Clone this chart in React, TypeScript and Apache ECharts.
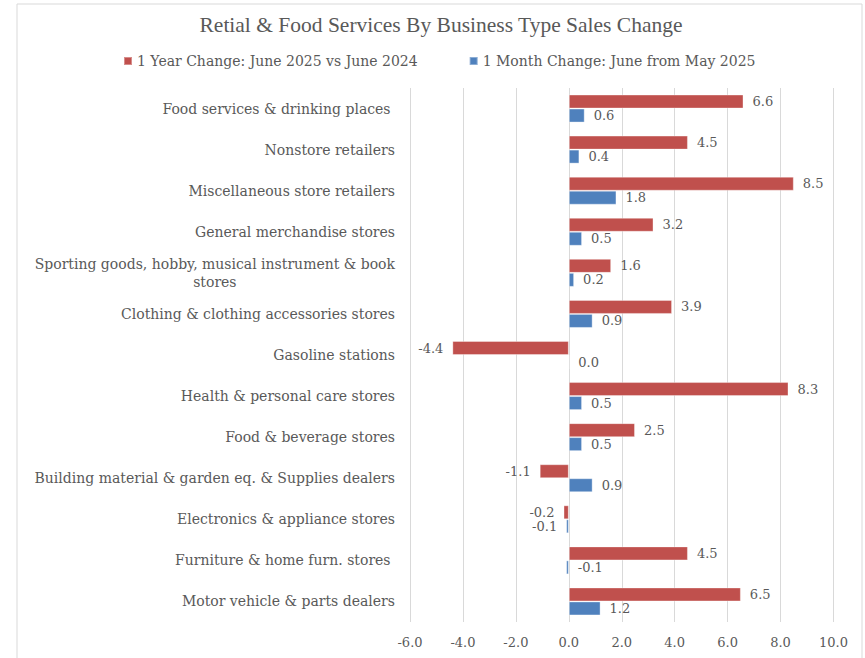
import React, { useEffect, useRef } from "react";
import * as echarts from "echarts";

const categories = [
  "Food services & drinking places ",
  "Nonstore retailers",
  "Miscellaneous store retailers",
  "General merchandise stores",
  "Sporting goods, hobby, musical instrument & book stores",
  "Clothing & clothing accessories stores",
  "Gasoline stations",
  "Health & personal care stores",
  "Food & beverage stores",
  "Building material & garden eq. & Supplies dealers",
  "Electronics & appliance stores",
  "Furniture & home furn. stores ",
  "Motor vehicle & parts dealers",
];
const yearChange = [6.6, 4.5, 8.5, 3.2, 1.6, 3.9, -4.4, 8.3, 2.5, -1.1, -0.2, 4.5, 6.5];
const monthChange = [0.6, 0.4, 1.8, 0.5, 0.2, 0.9, 0.0, 0.5, 0.5, 0.9, -0.1, -0.1, 1.2];
const monthLabelRight = [true, true, true, true, true, true, true, true, true, true, false, true, true];
const xTicks = { min: -6, max: 10, interval: 2 };

const TFONT = "'Liberation Serif', serif";
const FONT = "'DejaVu Serif', 'Liberation Serif', serif";
const GREY = "#595959";

export default function App() {
  const ref = useRef<HTMLDivElement>(null);
  useEffect(() => {
    if (!ref.current) return;
    const chart = echarts.init(ref.current, undefined, { renderer: "svg" });
    const labelFmt = (p: any) => Number(p.value).toFixed(1);
    chart.setOption({
      animation: false,
      backgroundColor: "#ffffff",
      textStyle: { fontFamily: FONT },
      graphic: [
        {
          type: "rect",
          shape: { x: 17, y: 4, width: 845, height: 700 },
          style: { fill: "none", stroke: "#d9d9d9", lineWidth: 1 },
          silent: true,
        },
      ],
      title: {
        text: "Retial & Food Services By Business Type Sales Change",
        left: 436,
        textAlign: "center",
        top: 9,
        textStyle: { fontFamily: TFONT, fontSize: 21.5, fontWeight: "normal", color: GREY },
      },
      legend: {
        top: 49,
        left: 118,
        itemWidth: 8,
        itemHeight: 8,
        itemGap: 51,
        icon: "rect",
        textStyle: { fontFamily: FONT, fontSize: 14, color: GREY },
        data: ["1 Year Change: June 2025 vs June 2024", "1 Month Change: June from May 2025"],
      },
      grid: { left: 410, right: 31.5, top: 88, bottom: 36, containLabel: false },
      xAxis: {
        type: "value",
        min: xTicks.min,
        max: xTicks.max,
        interval: xTicks.interval,
        axisLine: { show: false },
        axisTick: { show: false },
        splitLine: { show: true, lineStyle: { color: "#d9d9d9", width: 1 } },
        axisLabel: {
          margin: 14,
          fontFamily: FONT,
          fontSize: 13,
          color: GREY,
          formatter: (v: number) => v.toFixed(1),
        },
      },
      yAxis: {
        type: "category",
        inverse: true,
        data: categories,
        axisLine: { show: false },
        axisTick: { show: false },
        axisLabel: {
          margin: 15,
          fontFamily: FONT,
          fontSize: 14,
          color: GREY,
          formatter: (v: string) => {
            if (v.startsWith("Sporting")) {
              return "{a|Sporting goods, hobby, musical instrument & book}\n{b|stores}";
            }
            return v;
          },
          rich: {
            a: { fontFamily: FONT, fontSize: 14, color: GREY, lineHeight: 18 },
            b: { fontFamily: FONT, fontSize: 14, color: GREY, lineHeight: 18, align: "center" },
          },
        },
      },
      series: [
        {
          name: "1 Year Change: June 2025 vs June 2024",
          type: "bar",
          barWidth: 14,
          barGap: "0%",
          itemStyle: { color: "#C0504D", borderColor: "rgba(255,255,255,0.35)", borderWidth: 1 },
          data: yearChange.map((v) => ({
            value: v,
            label: { position: v < 0 ? "left" : "right" },
          })),
          label: {
            show: true,
            distance: 9,
            fontFamily: FONT,
            fontSize: 13,
            color: GREY,
            formatter: labelFmt,
          },
        },
        {
          name: "1 Month Change: June from May 2025",
          type: "bar",
          barWidth: 14,
          barGap: "0%",
          itemStyle: { color: "#4F81BD", borderColor: "rgba(255,255,255,0.35)", borderWidth: 1 },
          data: monthChange.map((v, i) => ({
            value: v,
            label: { position: monthLabelRight[i] ? "right" : "left" },
          })),
          label: {
            show: true,
            distance: 9,
            fontFamily: FONT,
            fontSize: 13,
            color: GREY,
            formatter: labelFmt,
          },
        },
      ],
    });
    return () => chart.dispose();
  }, []);
  return (
    <div
      ref={ref}
      style={{ position: "fixed", left: 0, top: 0, width: 865, height: 658, background: "#fff" }}
    />
  );
}
